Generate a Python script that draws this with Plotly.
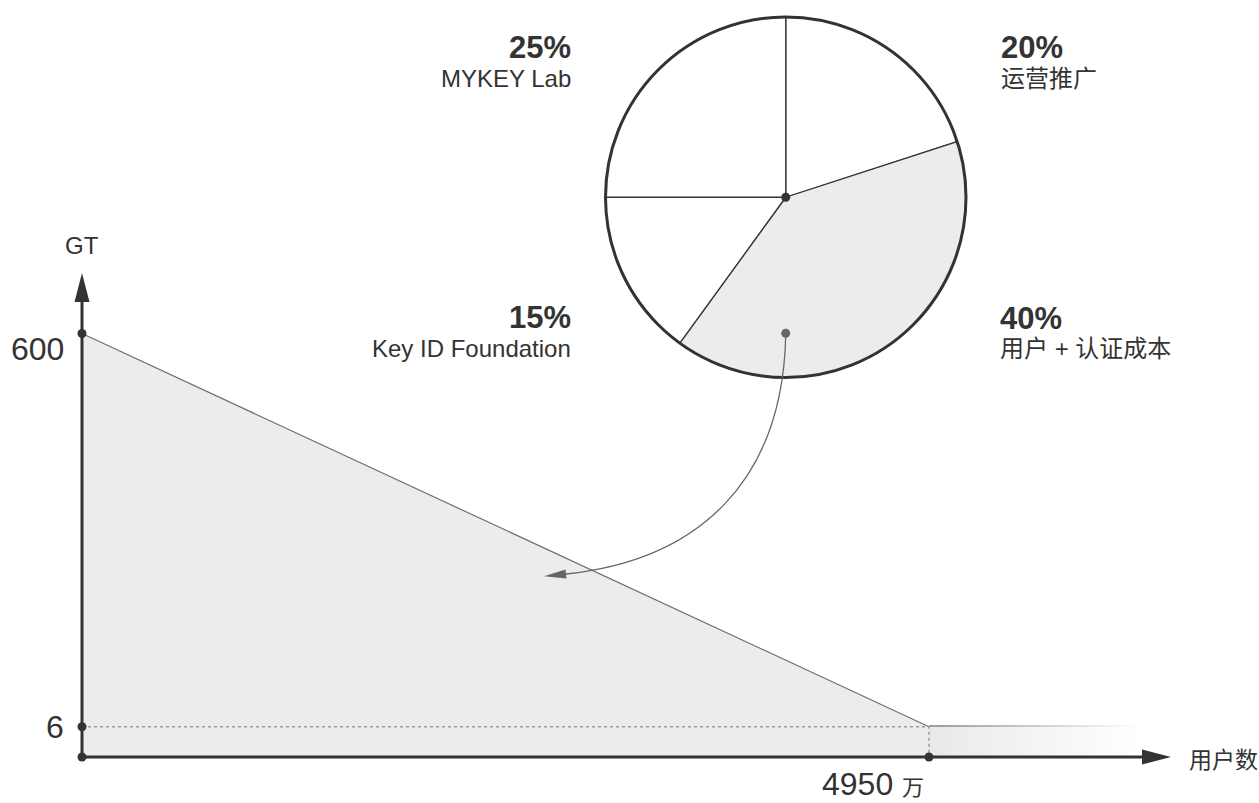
import math
import plotly.graph_objects as go

W, H = 1259, 803

# ---------------- data ----------------
pie_labels = ['运营推广', '用户 + 认证成本', 'Key ID Foundation', 'MYKEY Lab']
pie_values = [20, 40, 15, 25]
pie_highlight = '用户 + 认证成本'
users_wan = [0, 4950]          # 用户数 (万)
gt_per_user = [600, 6]         # GT
y_ticks = [600, 6]
x_ticks = [4950]
x_unit = '万'
x_title = '用户数'
y_title = 'GT'

# ---------------- layout anchors (pixels) ----------------
X0_PX, XT_PX = 82, 929
Y600_PX, Y6_PX = 333.5, 726.7
BASE_PX = 757

sx = (XT_PX - X0_PX) / (x_ticks[0] - users_wan[0])
x_range = [-X0_PX / sx, (W - X0_PX) / sx]
dec = (Y6_PX - Y600_PX) / (math.log10(y_ticks[0]) - math.log10(y_ticks[1]))


def px2logy(p):
    return math.log10(y_ticks[1]) + (Y6_PX - p) / dec


def px2x(p):
    return (p - X0_PX) / sx


y_range = [px2logy(H), px2logy(0)]
BASE = 10 ** px2logy(BASE_PX)
FADE_END = px2x(1140)
LINE_K = 10 ** (1.4 / dec)


def PX(x):
    return x / W


def PY(y):
    return 1 - y / H


FONT = 'Liberation Sans, Noto Sans CJK SC, sans-serif'
TXT = '#333333'

fig = go.Figure()

# baseline for area fill
fig.add_trace(go.Scatter(x=users_wan, y=[BASE, BASE], mode='lines',
                         line=dict(width=0), hoverinfo='skip', showlegend=False))
fig.add_trace(go.Scatter(x=users_wan, y=gt_per_user, mode='lines', fill='tonexty',
                         fillcolor='#ececec', line=dict(color='#707070', width=1.2),
                         hoverinfo='skip', showlegend=False))
# fading continuation
fig.add_trace(go.Scatter(x=[users_wan[-1], FADE_END], y=[BASE, BASE], mode='lines',
                         line=dict(width=0), hoverinfo='skip', showlegend=False))
fig.add_trace(go.Scatter(x=[users_wan[-1], FADE_END], y=[gt_per_user[-1]] * 2, mode='lines',
                         fill='tonexty', line=dict(width=0),
                         fillgradient=dict(type='horizontal',
                                           colorscale=[[0, '#e9e9e9'], [1, '#ffffff']]),
                         hoverinfo='skip', showlegend=False))
fig.add_trace(go.Scatter(x=[users_wan[-1], FADE_END], y=[gt_per_user[-1] * LINE_K] * 2,
                         mode='lines', fill='tonexty', line=dict(width=0),
                         fillgradient=dict(type='horizontal',
                                           colorscale=[[0, '#7a7a7a'], [1, '#ffffff']]),
                         hoverinfo='skip', showlegend=False))
# dotted guides
fig.add_trace(go.Scatter(x=[users_wan[0], users_wan[-1], users_wan[-1]],
                         y=[gt_per_user[-1], gt_per_user[-1], BASE], mode='lines',
                         line=dict(color='#9a9a9a', width=1.5, dash='dot'),
                         hoverinfo='skip', showlegend=False))
# dots
fig.add_trace(go.Scatter(x=[users_wan[0], users_wan[0], users_wan[0], users_wan[-1]],
                         y=[gt_per_user[0], gt_per_user[-1], BASE, BASE],
                         mode='markers', marker=dict(color='#333333', size=9),
                         cliponaxis=False, hoverinfo='skip', showlegend=False))

# pie
PIE_L, PIE_R, PIE_T, PIE_B = 605.5, 966, 17, 377.5
fig.add_trace(go.Pie(values=pie_values, labels=pie_labels, sort=False,
                     direction='clockwise', rotation=0, textinfo='none',
                     marker=dict(colors=['#ececec' if l == pie_highlight else '#ffffff'
                                         for l in pie_labels],
                                 line=dict(color='#333333', width=1.3)),
                     domain=dict(x=[PX(PIE_L), PX(PIE_R)], y=[PY(PIE_B), PY(PIE_T)]),
                     hoverinfo='skip', showlegend=False))

cx, cy = (PIE_L + PIE_R) / 2, (PIE_T + PIE_B) / 2
shapes = []
shapes.append(dict(type='circle', xref='paper', yref='paper',
                   x0=PX(PIE_L), x1=PX(PIE_R), y0=PY(PIE_B), y1=PY(PIE_T),
                   line=dict(color='#333333', width=3)))


def dot(x, y, r, color):
    return dict(type='circle', xref='paper', yref='paper',
                x0=PX(x - r), x1=PX(x + r), y0=PY(y + r), y1=PY(y - r),
                fillcolor=color, line=dict(width=0))


shapes.append(dot(cx, cy, 4.5, '#333333'))
shapes.append(dot(cx, 333.3, 4.5, '#666666'))


def P(x, y):
    return f'{PX(x):.6f},{PY(y):.6f}'


# curved arrow
shapes.append(dict(type='path', xref='paper', yref='paper',
                   path=f'M{P(cx, 335)} C{P(cx - 3, 480)} {P(700, 560)} {P(566, 574)}',
                   line=dict(color='#666666', width=1.3)))
shapes.append(dict(type='path', xref='paper', yref='paper',
                   path=f'M{P(544, 576.3)} L{P(566.5, 578.6)} L{P(565.5, 569.6)} Z',
                   fillcolor='#666666', line=dict(width=0)))
# axes
shapes.append(dict(type='line', xref='paper', yref='paper',
                   x0=PX(X0_PX), x1=PX(X0_PX), y0=PY(BASE_PX), y1=PY(300),
                   line=dict(color='#333333', width=3)))
shapes.append(dict(type='path', xref='paper', yref='paper',
                   path=f'M{P(X0_PX, 273)} L{P(X0_PX - 7.5, 302)} L{P(X0_PX + 7.5, 302)} Z',
                   fillcolor='#333333', line=dict(width=0)))
shapes.append(dict(type='line', xref='paper', yref='paper',
                   x0=PX(X0_PX), x1=PX(1145), y0=PY(BASE_PX), y1=PY(BASE_PX),
                   line=dict(color='#333333', width=3)))
shapes.append(dict(type='path', xref='paper', yref='paper',
                   path=f'M{P(1171, BASE_PX)} L{P(1142, BASE_PX - 7.5)} L{P(1142, BASE_PX + 7.5)} Z',
                   fillcolor='#333333', line=dict(width=0)))

ann = []
ann.append(dict(x=PX(X0_PX), y=PY(245), xref='paper', yref='paper', text=y_title,
                showarrow=False, xanchor='center', yanchor='middle',
                font=dict(size=24, color=TXT, family=FONT)))
ann.append(dict(x=PX(1187), y=PY(760), xref='paper', yref='paper', text=x_title,
                showarrow=False, xanchor='left', yanchor='middle',
                font=dict(size=23, color=TXT, family=FONT)))
# y tick labels
yshifts = {600: -15.5, 6: 0}
for v in y_ticks:
    ann.append(dict(x=0, y=math.log10(v), xref='x', yref='y', text=str(v),
                    showarrow=False, xanchor='right', yanchor='middle',
                    xshift=-16, yshift=yshifts.get(v, 0),
                    font=dict(size=32, color=TXT, family=FONT)))
# x tick label
for v in x_ticks:
    ann.append(dict(x=v, y=0, xref='x', yref='paper',
                    text=f"{v} <span style='font-size:22px'>{x_unit}</span>",
                    showarrow=False, xanchor='center', yanchor='bottom', xshift=-56,
                    borderpad=0,
                    font=dict(size=32, color=TXT, family=FONT)))

# pie labels: (anchor x px, xanchor, pct center y, name center y)
label_pos = {
    '运营推广': (999, 'left', 47, 79),
    '用户 + 认证成本': (998, 'left', 318, 349),
    'Key ID Foundation': (573, 'right', 317, 349),
    'MYKEY Lab': (573, 'right', 47, 79),
}
for lab, val in zip(pie_labels, pie_values):
    ax, xa, yp, yn = label_pos[lab]
    ann.append(dict(x=PX(ax), y=PY(yp), xref='paper', yref='paper', text=f'<b>{val}%</b>',
                    showarrow=False, xanchor=xa, yanchor='middle',
                    font=dict(size=31, color=TXT, family=FONT)))
    ann.append(dict(x=PX(ax), y=PY(yn), xref='paper', yref='paper', text=lab,
                    showarrow=False, xanchor=xa, yanchor='middle',
                    font=dict(size=24, color=TXT, family=FONT)))

fig.update_layout(
    width=W, height=H, margin=dict(l=0, r=0, t=0, b=0),
    paper_bgcolor='white', plot_bgcolor='rgba(0,0,0,0)',
    xaxis=dict(range=x_range, domain=[0, 1], visible=False, fixedrange=True),
    yaxis=dict(type='log', range=y_range, domain=[0, 1], visible=False, fixedrange=True),
    shapes=shapes, annotations=ann, showlegend=False, hovermode=False,
)

fig.write_html('out.html', config={'displayModeBar': False})
